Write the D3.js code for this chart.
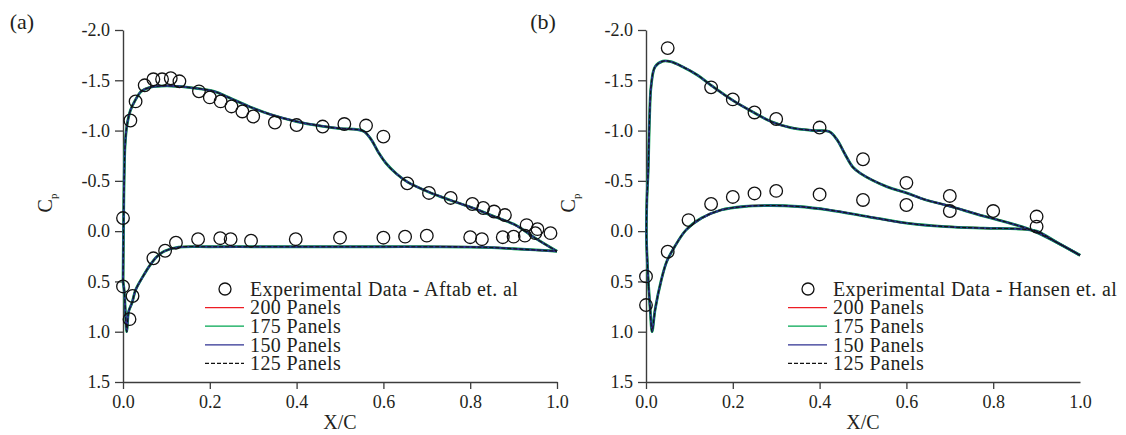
<!DOCTYPE html>
<html>
<head>
<meta charset="utf-8">
<script src="https://cdn.jsdelivr.net/npm/d3@7"></script>
<style>
  html, body { margin: 0; padding: 0; background: #fff; }
  svg { display: block; }
</style>
</head>
<body>
<svg id="chart" width="1126" height="435" font-family="'Liberation Serif', 'DejaVu Serif', serif"></svg>
<script>
// Tick values shared by both panels
const xTickValues = [0.0, 0.2, 0.4, 0.6, 0.8, 1.0];
const yTickValues = [-2.0, -1.5, -1.0, -0.5, 0.0, 0.5, 1.0, 1.5];

// Panel-count series (all four solutions overlap almost exactly)
const seriesNames = ["200 Panels", "175 Panels", "150 Panels", "125 Panels"];

// Panel (a): computed Cp, upper and lower surfaces  [x/c, Cp]
const upperA = [
  [0.000, 0.50], [0.001, 0.05], [0.002, -0.35], [0.003, -0.60], [0.0046, -0.84],
  [0.0087, -1.04], [0.017, -1.20], [0.028, -1.30], [0.042, -1.39], [0.062, -1.43],
  [0.100, -1.445], [0.150, -1.43], [0.210, -1.39], [0.243, -1.33], [0.290, -1.24],
  [0.340, -1.16], [0.400, -1.09], [0.457, -1.045], [0.500, -1.02], [0.540, -1.01],
  [0.556, -0.99], [0.572, -0.91], [0.589, -0.78], [0.605, -0.68], [0.630, -0.57],
  [0.655, -0.49], [0.704, -0.39], [0.753, -0.31], [0.800, -0.24], [0.850, -0.155],
  [0.900, -0.07], [0.920, -0.02], [0.950, 0.07], [1.000, 0.20]
];
const lowerA = [
  [0.000, 0.50], [0.003, 0.60], [0.006, 0.85], [0.0087, 1.00], [0.013, 0.80],
  [0.021, 0.71], [0.029, 0.585], [0.046, 0.45], [0.062, 0.34], [0.079, 0.25],
  [0.095, 0.20], [0.128, 0.16], [0.200, 0.155], [0.300, 0.155], [0.400, 0.155],
  [0.500, 0.155], [0.600, 0.155], [0.700, 0.155], [0.800, 0.158], [0.850, 0.163],
  [0.900, 0.175], [0.950, 0.187], [1.000, 0.20]
];
// Panel (a): experimental data - Aftab et. al
const expA = [
  [0.000, -0.13], [0.017, -1.10], [0.029, -1.29], [0.050, -1.45], [0.070, -1.51],
  [0.090, -1.51], [0.110, -1.52], [0.130, -1.49], [0.175, -1.39], [0.200, -1.33],
  [0.225, -1.29], [0.250, -1.24], [0.275, -1.19], [0.300, -1.14], [0.350, -1.08],
  [0.400, -1.055], [0.460, -1.04], [0.510, -1.065], [0.560, -1.05], [0.600, -0.94],
  [0.655, -0.475], [0.705, -0.38], [0.755, -0.33], [0.805, -0.27], [0.830, -0.23],
  [0.855, -0.195], [0.880, -0.16], [0.930, -0.06], [0.955, -0.02], [0.985, 0.02],
  [0.000, 0.55], [0.015, 0.875], [0.022, 0.645], [0.070, 0.27], [0.097, 0.195],
  [0.122, 0.115], [0.173, 0.08], [0.224, 0.07], [0.248, 0.08], [0.295, 0.095],
  [0.398, 0.08], [0.500, 0.065], [0.600, 0.065], [0.650, 0.055], [0.700, 0.045],
  [0.800, 0.06], [0.827, 0.08], [0.875, 0.06], [0.900, 0.055], [0.926, 0.045],
  [0.950, 0.02]
];

// Panel (b): computed Cp, upper and lower surfaces  [x/c, Cp]
const upperB = [
  [0.006, 0.55], [0.003, 0.30], [0.001, 0.05], [0.002, -0.30], [0.005, -0.60],
  [0.008, -1.10], [0.012, -1.45], [0.021, -1.635], [0.039, -1.69], [0.057, -1.685],
  [0.084, -1.635], [0.119, -1.55], [0.150, -1.45], [0.200, -1.30], [0.244, -1.19],
  [0.288, -1.09], [0.333, -1.03], [0.387, -1.00], [0.422, -0.99], [0.440, -0.91],
  [0.458, -0.77], [0.476, -0.64], [0.494, -0.575], [0.556, -0.44], [0.600, -0.38],
  [0.645, -0.31], [0.690, -0.26], [0.778, -0.15], [0.830, -0.09], [0.876, -0.03],
  [0.894, 0.00], [0.950, 0.12], [1.000, 0.24]
];
const lowerB = [
  [0.006, 0.55], [0.010, 0.80], [0.014, 1.00], [0.021, 0.78], [0.035, 0.49],
  [0.048, 0.30], [0.066, 0.155], [0.092, -0.01], [0.128, -0.13], [0.173, -0.21],
  [0.226, -0.245], [0.288, -0.255], [0.350, -0.245], [0.422, -0.21], [0.510, -0.145],
  [0.600, -0.08], [0.690, -0.045], [0.778, -0.03], [0.867, -0.02], [0.900, 0.00],
  [0.950, 0.12], [1.000, 0.24]
];
// Panel (b): experimental data - Hansen et. al
const expB = [
  [0.050, -1.82], [0.150, -1.43], [0.200, -1.31], [0.250, -1.18], [0.300, -1.115],
  [0.400, -1.03], [0.500, -0.715], [0.600, -0.48], [0.700, -0.35], [0.800, -0.20],
  [0.900, -0.145], [0.000, 0.45], [0.000, 0.735], [0.050, 0.205], [0.098, -0.11],
  [0.150, -0.27], [0.200, -0.34], [0.250, -0.375], [0.300, -0.40], [0.400, -0.365],
  [0.500, -0.31], [0.600, -0.26], [0.700, -0.20], [0.900, -0.045]
];

const legendExpA = "Experimental Data - Aftab et. al";
const legendExpB = "Experimental Data - Hansen et. al";

// Line styles for each panel-count series, drawn in this order
const seriesStyles = [
  { color: "#ed1c24", width: 2.0, dash: null },
  { color: "#00a651", width: 2.8, dash: null },
  { color: "#2e3192", width: 1.9, dash: null },
  { color: "#111111", width: 1.1, dash: "4,2" }
];

const FONT = "'Liberation Serif', 'DejaVu Serif', serif";
const INK = "#231f20";
const fmt = d => d.toFixed(1);   // plain hyphen-minus, one decimal

const svg = d3.select("#chart");

function drawPanel(opts) {
  const x = d3.scaleLinear().domain([0, 1]).range([opts.left, opts.left + 434]);
  const y = d3.scaleLinear().domain([-2, 1.5]).range([30, 382]);
  const g = svg.append("g");

  // Axes
  const yAxis = d3.axisLeft(y).tickValues(yTickValues).tickFormat(fmt)
    .tickSize(8).tickSizeOuter(0).tickPadding(5);
  const xAxis = d3.axisBottom(x).tickValues(xTickValues).tickFormat(fmt)
    .tickSize(7).tickSizeOuter(0).tickPadding(6);

  const gy = g.append("g").attr("transform", `translate(${opts.left},0)`).call(yAxis);
  const gx = g.append("g").attr("transform", `translate(0,${y(1.5)})`).call(xAxis);
  [gx, gy].forEach(a => {
    a.attr("font-family", FONT).attr("font-size", 18);
    a.select(".domain").attr("stroke", "#3c3c3c").attr("stroke-width", 1.4);
    a.selectAll(".tick line").attr("stroke", "#3c3c3c").attr("stroke-width", 1.3);
    a.selectAll(".tick text").attr("fill", INK).attr("font-family", FONT).attr("font-size", 18);
  });
  if (opts.hideLastXTick) {
    gx.selectAll(".tick").filter(d => d === 1.0).select("line").remove();
  }

  // Computed Cp curves
  const line = d3.line().x(d => x(d[0])).y(d => y(d[1])).curve(d3.curveCatmullRom.alpha(0.5));
  seriesStyles.forEach(s => {
    [opts.upper, opts.lower].forEach(surf => {
      g.append("path").attr("d", line(surf)).attr("fill", "none")
        .attr("stroke", s.color).attr("stroke-width", s.width)
        .attr("stroke-dasharray", s.dash).attr("stroke-linejoin", "round");
    });
  });

  // Experimental points
  g.append("g").selectAll("circle").data(opts.exp).join("circle")
    .attr("cx", d => x(d[0])).attr("cy", d => y(d[1])).attr("r", 6.3)
    .attr("fill", "none").attr("stroke", "#111").attr("stroke-width", 1.3);

  // Axis titles
  g.append("text").attr("x", (x(0) + x(1)) / 2).attr("y", 429)
    .attr("text-anchor", "middle").attr("font-family", FONT).attr("font-size", 20)
    .attr("fill", INK).text("X/C");
  const cp = g.append("text")
    .attr("transform", `translate(${opts.left - 71},203) rotate(-90)`)
    .attr("text-anchor", "middle").attr("font-family", FONT).attr("font-size", 20)
    .attr("fill", INK);
  cp.append("tspan").text("C");
  cp.append("tspan").attr("dy", 5).attr("font-size", 11).text("p");

  // Panel tag
  g.append("text").attr("x", opts.tagX).attr("y", 29).attr("text-anchor", "middle")
    .attr("font-family", FONT).attr("font-size", 22).attr("fill", INK).text(opts.tag);

  // Legend
  const lg = g.append("g").attr("transform", `translate(${opts.legendX},289)`)
    .attr("font-family", FONT).attr("font-size", 20).attr("fill", INK);
  const rowH = 18.6;
  lg.append("circle").attr("cx", 20).attr("cy", 0).attr("r", 6)
    .attr("fill", "none").attr("stroke", "#111").attr("stroke-width", 1.3);
  lg.append("text").attr("x", 45).attr("y", 0).attr("dy", "0.34em")
    .attr("letter-spacing", 0.4).text(opts.expLabel);
  seriesNames.forEach((name, i) => {
    const s = seriesStyles[i];
    const yy = (i + 1) * rowH;
    lg.append("line").attr("x1", 0).attr("x2", 39).attr("y1", yy).attr("y2", yy)
      .attr("stroke", s.color).attr("stroke-width", 1.3).attr("stroke-dasharray", s.dash);
    lg.append("text").attr("x", 45).attr("y", yy).attr("dy", "0.34em")
      .attr("letter-spacing", 0.4).text(name);
  });
}

drawPanel({ left: 123, upper: upperA, lower: lowerA, exp: expA, tag: "(a)", tagX: 22,
            legendX: 205, expLabel: legendExpA, hideLastXTick: false });
drawPanel({ left: 646, upper: upperB, lower: lowerB, exp: expB, tag: "(b)", tagX: 543,
            legendX: 788, expLabel: legendExpB, hideLastXTick: true });
</script>
</body>
</html>
